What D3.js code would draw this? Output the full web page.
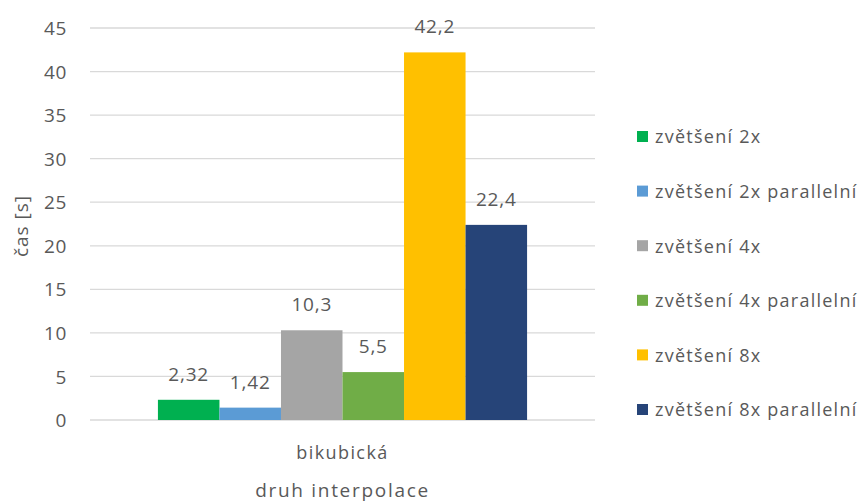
<!DOCTYPE html>
<html><head><meta charset="utf-8">
<script src="https://cdn.jsdelivr.net/npm/d3@7"></script>
<style>body{margin:0;background:#fff}svg{display:block}text{font-family:"Open Sans",sans-serif;fill:#595959}</style>
</head><body>
<script>
const categories = ["bikubická"];
const seriesNames = ["zvětšení 2x","zvětšení 2x parallelní","zvětšení 4x","zvětšení 4x parallelní","zvětšení 8x","zvětšení 8x parallelní"];
const seriesValues = [2.32, 1.42, 10.3, 5.5, 42.2, 22.4];
const valueLabels = ["2,32","1,42","10,3","5,5","42,2","22,4"];
const colors = ["#00b050","#5b9bd5","#a5a5a5","#70ad47","#ffc000","#264478"];
const yTicks = [0,5,10,15,20,25,30,35,40,45];

const W=861,H=503;
const svg=d3.select("body").append("svg").attr("width",W).attr("height",H);
const mLeft=90,mRight=595,mTop=28,mBottom=420;
const y=d3.scaleLinear().domain([0,45]).range([mBottom,mTop]);
const x0=d3.scaleBand().domain(categories).range([mLeft,mRight]).paddingInner(0).paddingOuter(0.184);
const x1=d3.scaleBand().domain(seriesNames).range([0,x0.bandwidth()]).padding(0);

// gridlines
svg.append("g").selectAll("line").data(yTicks).join("line")
  .attr("x1",mLeft).attr("x2",mRight).attr("y1",d=>y(d)).attr("y2",d=>y(d))
  .attr("stroke","#d9d9d9").attr("stroke-width",1.3);

// y axis
const ya=svg.append("g").attr("transform",`translate(${mLeft-23},0)`)
  .call(d3.axisLeft(y).tickValues(yTicks).tickSize(0).tickPadding(0));
ya.select(".domain").remove();
ya.selectAll("text").style("font-size","19px").style("letter-spacing","0.6px").attr("fill","#595959").attr("dy","0.35em");

// bars
const g=svg.append("g");
categories.forEach(c=>{
  seriesNames.forEach((s,i)=>{
    const bx=x0(c)+x1(s);
    g.append("rect").attr("x",bx).attr("y",y(seriesValues[i]))
      .attr("width",x1.bandwidth()).attr("height",y(0)-y(seriesValues[i]))
      .attr("fill",colors[i]);
    g.append("text").attr("x",bx+x1.bandwidth()/2).attr("y",y(seriesValues[i])-19)
      .attr("text-anchor","middle").style("font-size","19px").style("letter-spacing","0.8px").text(valueLabels[i]);
  });
});

// x axis category labels
const xa=svg.append("g").attr("transform",`translate(0,${mBottom})`)
  .call(d3.axisBottom(x0).tickSize(0).tickPadding(0));
xa.select(".domain").remove();
xa.selectAll("text").style("font-size","18px").style("letter-spacing","1.4px").attr("fill","#595959").attr("dy","39px");

// axis titles
svg.append("text").attr("x",(mLeft+mRight)/2).attr("y",497).attr("text-anchor","middle")
  .style("font-size","19px").style("letter-spacing","1.7px").text("druh interpolace");
svg.append("text").attr("transform","translate(28,226) rotate(-90)").attr("text-anchor","middle")
  .style("font-size","19px").style("letter-spacing","1px").text("čas [s]");

// legend
const lg=svg.append("g");
seriesNames.forEach((s,i)=>{
  const cy=137+i*54.6;
  lg.append("rect").attr("x",637).attr("y",cy-6).attr("width",11).attr("height",11).attr("fill",colors[i]);
  lg.append("text").attr("x",655).attr("y",cy).attr("dy","0.35em").style("font-size","18px").style("letter-spacing","1.25px").text(s);
});
</script>
</body></html>
